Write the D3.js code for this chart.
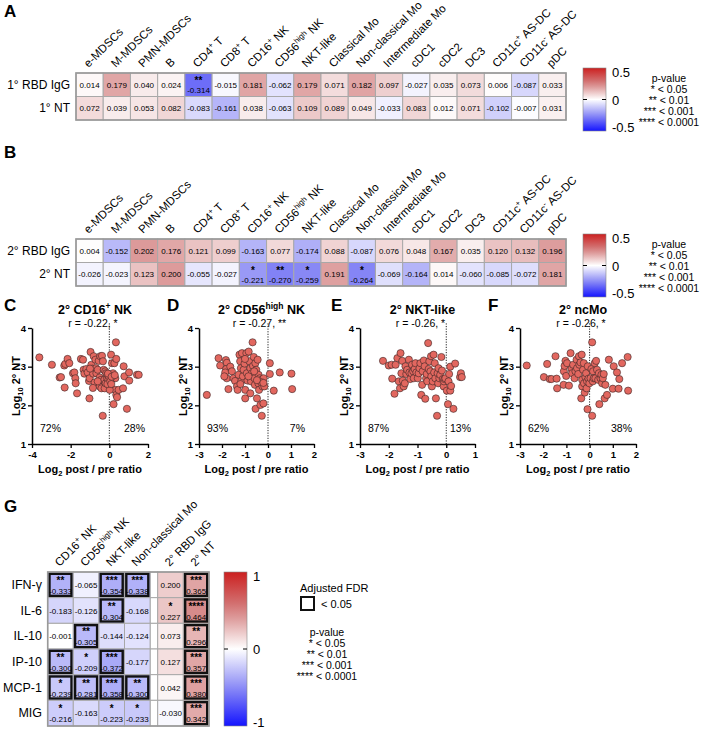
<!DOCTYPE html>
<html>
<head>
<meta charset="utf-8">
<script src="https://cdn.jsdelivr.net/npm/d3@7"></script>
<style>
  body { margin: 0; background: #fff; }
  svg { font-family: "Liberation Sans", Arial, sans-serif; }
</style>
</head>
<body>
<script>
// ---------- data ----------
const cellTypes = ["e-MDSCs", "M-MDSCs", "PMN-MDSCs", "B", "CD4^{+} T", "CD8^{+} T", "CD16^{+} NK",
  "CD56^{high} NK", "NKT-like", "Classical Mo", "Non-classical Mo", "Intermediate Mo", "cDC1", "cDC2",
  "DC3", "CD11c^{+} AS-DC", "CD11c^{-} AS-DC", "pDC"];

const rowsA = ["1° RBD IgG", "1° NT"];
const rbdIgG1 = [0.014, 0.179, 0.040, 0.024, -0.314, -0.015, 0.181, -0.062, 0.179, 0.071, 0.182, 0.097, -0.027, 0.035, 0.073, 0.006, -0.087, 0.033];
const nt1 = [0.072, 0.039, 0.053, 0.082, -0.083, -0.161, 0.038, -0.063, 0.109, 0.089, 0.049, -0.033, 0.083, 0.012, 0.071, -0.102, -0.007, 0.031];
const rbdIgG1Stars = ["", "", "", "", "**", "", "", "", "", "", "", "", "", "", "", "", "", ""];
const nt1Stars = ["", "", "", "", "", "", "", "", "", "", "", "", "", "", "", "", "", ""];

const rowsB = ["2° RBD IgG", "2° NT"];
const rbdIgG2 = [0.004, -0.152, 0.202, 0.176, 0.121, 0.099, -0.163, 0.077, -0.174, 0.088, -0.087, 0.076, 0.048, 0.167, 0.035, 0.120, 0.132, 0.196];
const nt2 = [-0.026, -0.023, 0.123, 0.200, -0.055, -0.027, -0.221, -0.270, -0.259, 0.191, -0.264, -0.069, -0.164, 0.014, -0.060, -0.085, -0.072, 0.181];
const rbdIgG2Stars = ["", "", "", "", "", "", "", "", "", "", "", "", "", "", "", "", "", ""];
const nt2Stars = ["", "", "", "", "", "", "*", "**", "*", "", "*", "", "", "", "", "", "", ""];

const pLegend = ["p-value", "* < 0.05", "** < 0.01", "*** < 0.001", "**** < 0.0001"];

// scatter panels: [log2 post/pre ratio, log10 2° NT]
const cd16Pts = [[-3.62,3.24],[-2.97,3.05],[-2.57,2.72],[-2.5,2.73],[-2.33,3.03],[-2.28,3.07],[-2.31,2.46],[-2.16,3.2],[-2.07,3.09],[-1.88,2.83],[-1.81,2.85],[-1.76,2.70],[-1.74,2.57],[-1.67,2.31],[-1.47,3.2],[-1.36,3.18],[-1.33,2.92],[-1.29,2.82],[-1.19,2.94],[-1.12,2.85],[-1.05,2.63],[-1.02,2.70],[-1.03,2.18],[-0.97,3.38],[-0.93,3.05],[-0.88,2.95],[-0.84,2.82],[-0.81,3.27],[-0.76,2.59],[-0.72,3.18],[-0.69,2.96],[-0.67,2.83],[-0.6,2.92],[-0.55,3.15],[-0.5,2.72],[-0.5,2.49],[-0.47,3.27],[-0.43,2.66],[-0.41,2.44],[-0.38,3.28],[-0.34,1.73],[-0.33,3.14],[-0.29,2.92],[-0.26,2.66],[-0.24,2.44],[-0.21,2.88],[-0.19,2.57],[-0.16,2.83],[-0.12,2.70],[-0.09,2.79],[-0.05,2.66],[-0.02,2.75],[0.09,3.31],[0.14,3.09],[0.19,2.83],[0.22,2.70],[0.26,3.09],[0.31,2.70],[0.34,3.63],[0.36,3.2],[0.31,2.40],[0.36,2.27],[0.40,2.21],[0.22,2.03],[0.48,2.40],[0.71,2.44],[0.74,3.01],[0.78,2.75],[0.91,1.91],[1.02,2.85],[1.03,2.64],[1.43,2.79],[1.52,2.79],[0.02,2.40],[-0.1,2.55],[0.05,2.62],[-0.07,2.82],[0.12,2.74],[-0.6,2.62],[-0.85,2.45],[-1.0,2.95],[0.28,2.78],[0.1,2.55]];
const cd56Pts = [[-2.66,2.27],[-2.15,3.22],[-2.08,3.03],[-1.83,3.17],[-1.79,3.10],[-1.82,2.94],[-1.79,2.70],[-1.86,2.85],[-1.9,2.75],[-1.72,2.42],[-1.64,3.0],[-1.57,2.88],[-1.50,2.70],[-1.43,2.63],[-1.35,2.49],[-1.32,2.40],[-1.28,2.79],[-1.24,3.31],[-1.21,3.14],[-1.18,2.96],[-1.16,2.63],[-1.13,3.35],[-1.09,2.75],[-1.06,2.92],[-1.02,3.08],[-0.99,2.40],[-0.99,2.18],[-0.94,3.35],[-0.92,2.83],[-0.89,2.64],[-0.84,3.39],[-0.81,3.14],[-0.77,2.96],[-0.77,2.31],[-0.74,2.62],[-0.70,2.83],[-0.67,3.63],[-0.65,3.02],[-0.62,3.25],[-0.59,2.70],[-0.57,2.53],[-0.55,3.09],[-0.54,1.91],[-0.51,2.92],[-0.48,2.18],[-0.45,3.18],[-0.42,2.57],[-0.41,2.79],[-0.39,2.40],[-0.36,2.70],[-0.33,2.01],[-0.29,2.66],[-0.27,1.73],[-0.24,2.49],[-0.20,2.05],[-0.19,2.70],[-0.16,2.49],[0.08,3.09],[0.08,2.81],[0.25,2.38],[0.51,2.85],[1.02,2.82],[1.05,2.42],[-1.0,3.2],[-0.6,2.88],[-0.3,2.6],[-0.48,2.65],[-1.2,2.55],[-0.85,2.75],[-0.2,2.58]];
const nktPts = [[-2.20,3.15],[-2.0,3.03],[-1.90,3.05],[-1.88,2.69],[-1.80,2.30],[-1.76,3.05],[-1.70,3.22],[-1.65,2.62],[-1.61,2.44],[-1.59,3.35],[-1.56,2.83],[-1.53,3.15],[-1.51,2.64],[-1.48,2.49],[-1.44,2.57],[-1.42,3.01],[-1.39,2.81],[-1.36,2.92],[-1.30,3.18],[-1.28,2.85],[-1.25,2.68],[-1.21,2.83],[-1.19,3.05],[-1.15,2.88],[-1.13,2.70],[-1.10,2.94],[-1.07,3.09],[-1.04,2.85],[-0.99,2.70],[-0.96,2.83],[-0.93,2.96],[-0.90,3.09],[-0.87,2.27],[-0.84,2.53],[-0.82,2.88],[-0.78,3.16],[-0.75,3.01],[-0.73,2.17],[-0.70,2.70],[-0.68,2.81],[-0.66,2.62],[-0.63,3.61],[-0.61,2.94],[-0.59,3.14],[-0.55,2.88],[-0.53,3.27],[-0.52,2.75],[-0.50,2.49],[-0.47,2.62],[-0.44,3.31],[-0.42,2.85],[-0.40,3.09],[-0.38,2.70],[-0.36,2.18],[-0.32,1.73],[-0.30,2.83],[-0.28,2.57],[-0.27,2.96],[-0.24,2.70],[-0.21,2.79],[-0.17,3.25],[-0.15,2.90],[-0.12,2.68],[-0.09,2.49],[-0.08,2.62],[-0.06,2.68],[-0.03,2.70],[0.02,2.38],[0.06,2.03],[0.08,2.62],[0.10,2.81],[0.14,2.38],[0.17,2.50],[0.14,3.0],[0.25,1.91],[0.31,3.08],[0.48,2.73],[0.51,2.83],[0.54,2.73]];
const ncMoPts = [[-2.71,3.03],[-1.97,2.73],[-1.83,3.07],[-1.72,2.68],[-1.64,2.68],[-1.47,3.27],[-1.40,2.44],[-1.42,2.69],[-1.12,2.53],[-1.11,2.88],[-1.08,3.02],[-1.04,3.15],[-1.01,2.76],[-0.97,3.09],[-0.89,2.51],[-0.82,3.35],[-0.78,2.94],[-0.75,2.83],[-0.71,3.05],[-0.65,2.70],[-0.61,2.88],[-0.56,3.18],[-0.54,2.96],[-0.49,2.81],[-0.46,3.27],[-0.44,3.05],[-0.39,3.11],[-0.36,2.18],[-0.34,3.31],[-0.32,2.66],[-0.32,2.49],[-0.28,2.92],[-0.25,3.09],[-0.24,2.57],[-0.21,2.33],[-0.18,2.73],[-0.15,2.83],[-0.13,2.44],[-0.11,2.62],[-0.09,1.90],[-0.08,3.01],[-0.05,2.69],[-0.01,2.57],[0.04,2.70],[0.08,2.94],[0.11,3.63],[0.11,1.73],[0.14,2.62],[0.15,2.88],[0.18,2.70],[0.22,3.09],[0.25,2.70],[0.28,3.15],[0.32,2.92],[0.37,2.66],[0.40,2.83],[0.42,2.03],[0.47,2.70],[0.51,2.79],[0.54,2.57],[0.57,2.70],[0.61,2.81],[0.65,2.18],[0.68,2.53],[0.75,2.27],[0.83,3.18],[1.00,2.43],[1.04,3.01],[1.18,2.85],[1.25,2.43],[1.28,2.68],[1.40,3.09],[1.64,3.25],[1.66,2.38]];

const scatterPanels = [
  { letter: "C", title: "2° CD16^{+} NK", r: "r = -0.22, *", pts: cd16Pts, xDomain: [-4, 2], xTicks: [-4, -2, 0, 2], pct: ["72%", "28%"] },
  { letter: "D", title: "2° CD56^{high} NK", r: "r = -0.27, **", pts: cd56Pts, xDomain: [-3, 2], xTicks: [-3, -2, -1, 0, 1, 2], pct: ["93%", "7%"] },
  { letter: "E", title: "2° NKT-like", r: "r = -0.26, *", pts: nktPts, xDomain: [-3, 1], xTicks: [-3, -2, -1, 0, 1], pct: ["87%", "13%"] },
  { letter: "F", title: "2° ncMo", r: "r = -0.26, *", pts: ncMoPts, xDomain: [-3, 2], xTicks: [-3, -2, -1, 0, 1, 2], pct: ["62%", "38%"] }
];

// panel G
const cytokines = ["IFN-γ", "IL-6", "IL-10", "IP-10", "MCP-1", "MIG"];
const gCellCols = ["CD16^{+} NK", "CD56^{high} NK", "NKT-like", "Non-classical Mo"];
const gAbCols = ["2° RBD IgG", "2° NT"];
const cd16G = [-0.333, -0.183, -0.001, -0.300, -0.239, -0.216];
const cd56G = [-0.065, -0.126, -0.305, -0.209, -0.281, -0.163];
const nktG = [-0.354, -0.304, -0.144, -0.372, -0.358, -0.223];
const ncMoG = [-0.338, -0.168, -0.124, -0.177, -0.300, -0.233];
const rbdG = [0.200, 0.227, 0.073, 0.127, 0.042, -0.030];
const ntG = [0.365, 0.464, 0.296, 0.357, 0.380, 0.342];
const cd16GStars = ["**", "", "", "**", "*", "*"];
const cd56GStars = ["", "", "**", "*", "**", ""];
const nktGStars = ["***", "**", "", "***", "***", "*"];
const ncMoGStars = ["***", "", "", "", "**", "*"];
const rbdGStars = ["", "*", "", "", "", ""];
const ntGStars = ["***", "****", "**", "***", "***", "***"];
const cd16GFdr = [1, 0, 0, 1, 1, 0];
const cd56GFdr = [0, 0, 1, 0, 1, 0];
const nktGFdr = [1, 1, 0, 1, 1, 0];
const ncMoGFdr = [1, 0, 0, 0, 1, 0];
const rbdGFdr = [0, 0, 0, 0, 0, 0];
const ntGFdr = [1, 1, 1, 1, 1, 1];

// ---------- setup ----------
const svg = d3.select('body').append('svg')
  .attr('width', 724)
  .attr('height', 732);

// normalised value (-1..1) -> colour
const heatColor = d3.scaleLinear()
  .domain([-1, -0.5, 0, 0.5, 1])
  .range(["#1414ff", "#8c8cf5", "#ffffff", "#d48282", "#cc2020"]);

// text with ^{sup} and _{sub}
function rich(text, s) {
  const fs = parseFloat(text.attr('font-size'));
  let shift = 0;
  s.split(/(\^\{[^}]*\}|_\{[^}]*\})/).filter(p => p !== "").forEach(p => {
    let t = p, d = 0, small = false;
    if (p.startsWith("^{")) { t = p.slice(2, -1); d = -fs * 0.38; small = true; }
    else if (p.startsWith("_{")) { t = p.slice(2, -1); d = fs * 0.3; small = true; }
    const ts = text.append('tspan').text(t).attr('dy', d - shift);
    if (small) ts.attr('font-size', fs * 0.68);
    shift = d;
  });
  return text;
}

function panelLetter(l, x, y) {
  svg.append('text').attr('x', x).attr('y', y)
    .attr('font-size', 17).attr('font-weight', 'bold').text(l);
}

let gradId = 0;
function colorbar(x, y0, y1, labels) {
  const id = 'grad' + (gradId++);
  const grad = svg.append('defs').append('linearGradient')
    .attr('id', id).attr('x1', 0).attr('x2', 0).attr('y1', 0).attr('y2', 1);
  d3.range(0, 1.0001, 0.1).forEach(t => {
    grad.append('stop').attr('offset', t).attr('stop-color', heatColor(1 - 2 * t));
  });
  const w = 23;
  svg.append('rect').attr('x', x).attr('y', y0).attr('width', w).attr('height', y1 - y0)
    .attr('fill', `url(#${id})`).attr('stroke', '#888').attr('stroke-width', 0.6);
  const ym = (y0 + y1) / 2;
  svg.append('line').attr('x1', x).attr('x2', x + 4).attr('y1', ym).attr('y2', ym).attr('stroke', '#000');
  svg.append('line').attr('x1', x + w - 4).attr('x2', x + w).attr('y1', ym).attr('y2', ym).attr('stroke', '#000');
  [y0 + 9, ym + 5, y1 + 1].forEach((yy, i) => {
    svg.append('text').attr('x', x + w + 6).attr('y', yy)
      .attr('font-size', 13).text(labels[i]);
  });
}

function pvalueLegend(cx, y0) {
  svg.append('g').selectAll('text')
    .data(pLegend)
    .join('text')
    .attr('x', cx)
    .attr('y', (d, i) => y0 + i * 11)
    .attr('text-anchor', 'middle')
    .attr('font-size', 10.5)
    .text(d => d);
}

// generic heatmap cell drawing; cols = [{x, w, label, vals, stars, fdr}]
function drawCells(g, cols, y, maxAbs) {
  cols.forEach(c => {
    c.vals.forEach((v, j) => {
      const top = y(j), h = y.bandwidth();
      g.append('rect')
        .attr('x', c.x).attr('y', top).attr('width', c.w).attr('height', h)
        .attr('fill', heatColor(v / maxAbs))
        .attr('stroke', '#a8a8a8').attr('stroke-width', 1);
      if (c.fdr && c.fdr[j]) {
        g.append('rect')
          .attr('x', c.x + 1.8).attr('y', top + 1.8).attr('width', c.w - 3.6).attr('height', h - 3.6)
          .attr('fill', 'none').attr('stroke', '#111').attr('stroke-width', 2.4);
      }
      const s = c.stars[j];
      if (s) {
        g.append('text').attr('x', c.x + c.w / 2).attr('y', top + h * 0.47)
          .attr('text-anchor', 'middle').attr('font-size', 10).attr('font-weight', 'bold').text(s);
      }
      g.append('text')
        .attr('x', c.x + c.w / 2)
        .attr('y', s ? top + h * 0.86 : top + h / 2 + 3)
        .attr('text-anchor', 'middle')
        .attr('font-size', 8)
        .text(v.toFixed(3));
    });
  });
}

function colLabels(g, cols, top, size) {
  cols.forEach(c => {
    const t = g.append('text')
      .attr('transform', `translate(${c.x + c.w / 2 - 1},${top - 5}) rotate(-45)`)
      .attr('font-size', size);
    rich(t, c.label);
  });
}

function rowLabels(g, rows, y, xRight, size) {
  rows.forEach((r, j) => {
    g.append('text').attr('x', xRight).attr('y', y(j) + y.bandwidth() / 2 + 4)
      .attr('text-anchor', 'end').attr('font-size', size).text(r);
  });
}

// ---------- panels A and B ----------
function abHeat(letterY, top, rows, vals, stars, cbTop, legendY, letter) {
  panelLetter(letter, 4, letterY);
  const x = d3.scaleBand().domain(d3.range(cellTypes.length)).range([76, 566]);
  const y = d3.scaleBand().domain([0, 1]).range([top, top + 47]);
  const g = svg.append('g');
  const cols = cellTypes.map((c, i) => ({
    x: x(i), w: x.bandwidth(), label: c,
    vals: [vals[0][i], vals[1][i]], stars: [stars[0][i], stars[1][i]]
  }));
  drawCells(g, cols, y, 0.5);
  g.append('rect').attr('x', 76).attr('y', top).attr('width', 490).attr('height', 47)
    .attr('fill', 'none').attr('stroke', '#999').attr('stroke-width', 1.6);
  colLabels(g, cols, top, 11.5);
  rowLabels(g, rows, y, 70, 12);
  colorbar(583, cbTop, cbTop + 63, ["0.5", "0", "-0.5"]);
  pvalueLegend(669, legendY);
}

abHeat(17, 73, rowsA, [rbdIgG1, nt1], [rbdIgG1Stars, nt1Stars], 68, 82, "A");
abHeat(158, 239, rowsB, [rbdIgG2, nt2], [rbdIgG2Stars, nt2Stars], 234, 248, "B");

// ---------- scatter panels C-F ----------
const scatterX = [[32, 148], [199, 314], [360, 475], [520, 636]];
const letterX = [4, 167, 331, 488];
const pctRightInset = [3, 9, 4, 4];
const yScale = d3.scaleLinear().domain([1, 4]).range([444, 328]);

scatterPanels.forEach((p, k) => {
  const xScale = d3.scaleLinear().domain(p.xDomain).range(scatterX[k]);
  const g = svg.append('g');
  const x0 = scatterX[k][0], x1 = scatterX[k][1];
  const cx = (x0 + x1) / 2;

  panelLetter(p.letter, letterX[k], 311);
  rich(g.append('text').attr('x', cx + 5).attr('y', 314).attr('text-anchor', 'middle')
    .attr('font-size', 12.5).attr('font-weight', 'bold'), p.title);
  g.append('text').attr('x', cx + 3).attr('y', 327).attr('text-anchor', 'middle')
    .attr('font-size', 10.5).text(p.r);

  // dotted zero line
  g.append('line')
    .attr('x1', xScale(0)).attr('x2', xScale(0))
    .attr('y1', yScale(4.12)).attr('y2', yScale(1))
    .attr('stroke', '#222').attr('stroke-width', 1).attr('stroke-dasharray', '1.2,1.4');

  g.append('g').selectAll('circle')
    .data(p.pts)
    .join('circle')
    .attr('cx', d => xScale(d[0]))
    .attr('cy', d => yScale(d[1]))
    .attr('r', 3.6)
    .attr('fill', '#e2675f')
    .attr('stroke', '#3a2525')
    .attr('stroke-width', 0.6);

  const yAxis = g.append('g').attr('transform', `translate(${x0},0)`)
    .call(d3.axisLeft(yScale).tickValues([1, 2, 3, 4]).tickFormat(d3.format('d')).tickSize(4).tickSizeOuter(0).tickPadding(2));
  const xAxis = g.append('g').attr('transform', `translate(0,${yScale(1)})`)
    .call(d3.axisBottom(xScale).tickValues(p.xTicks).tickFormat(d => String(d)).tickSize(4).tickSizeOuter(0).tickPadding(3));
  [yAxis, xAxis].forEach(a => {
    a.select('.domain').attr('stroke-width', 1.5);
    a.selectAll('.tick line').attr('stroke-width', 1.3);
    a.selectAll('.tick text').attr('font-size', 9.5).attr('font-weight', 'bold')
      .attr('font-family', '"Liberation Sans", Arial, sans-serif');
  });

  rich(g.append('text').attr('x', cx).attr('y', 473).attr('text-anchor', 'middle')
    .attr('font-size', 11).attr('font-weight', 'bold'), "Log_{2} post / pre ratio");
  rich(g.append('text').attr('transform', `translate(${x0 - 12},386) rotate(-90)`)
    .attr('text-anchor', 'middle').attr('font-size', 11).attr('font-weight', 'bold'), "Log_{10} 2° NT");

  g.append('text').attr('x', x0 + 8).attr('y', 432).attr('font-size', 10.5).text(p.pct[0]);
  g.append('text').attr('x', x1 - pctRightInset[k]).attr('y', 432)
    .attr('text-anchor', 'end').attr('font-size', 10.5).text(p.pct[1]);
});

// ---------- panel G ----------
panelLetter("G", 4, 512);
{
  const g = svg.append('g');
  const xCells = d3.scaleBand().domain(d3.range(4)).range([47.7, 150.1]);
  const xAb = d3.scaleBand().domain(d3.range(2)).range([157.7, 209]);
  const y = d3.scaleBand().domain(d3.range(cytokines.length)).range([572, 726]);
  const cellVals = [cd16G, cd56G, nktG, ncMoG];
  const cellStars = [cd16GStars, cd56GStars, nktGStars, ncMoGStars];
  const cellFdr = [cd16GFdr, cd56GFdr, nktGFdr, ncMoGFdr];
  const cols = gCellCols.map((c, i) => ({ x: xCells(i), w: xCells.bandwidth(), label: c, vals: cellVals[i], stars: cellStars[i], fdr: cellFdr[i] }))
    .concat(gAbCols.map((c, i) => ({ x: xAb(i), w: xAb.bandwidth(), label: c, vals: [rbdG, ntG][i], stars: [rbdGStars, ntGStars][i], fdr: [rbdGFdr, ntGFdr][i] })));
  // gap column
  cytokines.forEach((c, j) => {
    g.append('rect').attr('x', 150.1).attr('y', y(j)).attr('width', 7.6).attr('height', y.bandwidth())
      .attr('fill', '#fff').attr('stroke', '#a8a8a8');
  });
  drawCells(g, cols, y, 1);
  g.append('rect').attr('x', 47.7).attr('y', 572).attr('width', 161.3).attr('height', 154)
    .attr('fill', 'none').attr('stroke', '#999').attr('stroke-width', 1.6);
  colLabels(g, cols, 572, 11.5);
  rowLabels(g, cytokines, y, 42, 12.5);
  colorbar(224, 572, 726, ["1", "0", "-1"]);

  svg.append('text').attr('x', 300).attr('y', 592).attr('font-size', 11).text("Adjusted FDR");
  svg.append('rect').attr('x', 301).attr('y', 597).attr('width', 13).attr('height', 13)
    .attr('fill', 'none').attr('stroke', '#111').attr('stroke-width', 2);
  svg.append('text').attr('x', 321).attr('y', 608).attr('font-size', 11).text("< 0.05");
  pvalueLegend(327, 636);
}
</script>
</body>
</html>
